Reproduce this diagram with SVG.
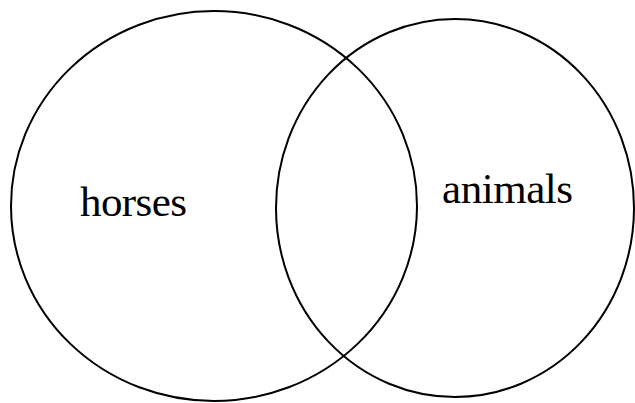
<svg xmlns="http://www.w3.org/2000/svg" width="635" height="403" viewBox="0 0 635 403">
<style>
.c{fill:none;stroke:#000;stroke-width:2}
.t{font-family:"Liberation Serif","Times New Roman",serif;font-size:43px;fill:#000}
</style>
<rect width="635" height="403" fill="#fff"/>
<g id="horses">
<ellipse class="c" cx="214" cy="206" rx="203" ry="195"/>
<text class="t" x="80" y="216" textLength="107">horses</text>
</g>
<g id="animals">
<ellipse class="c" cx="455" cy="208" rx="179" ry="189"/>
<text class="t" x="442" y="203" textLength="131">animals</text>
</g>
<g id="connectors"></g>
</svg>
